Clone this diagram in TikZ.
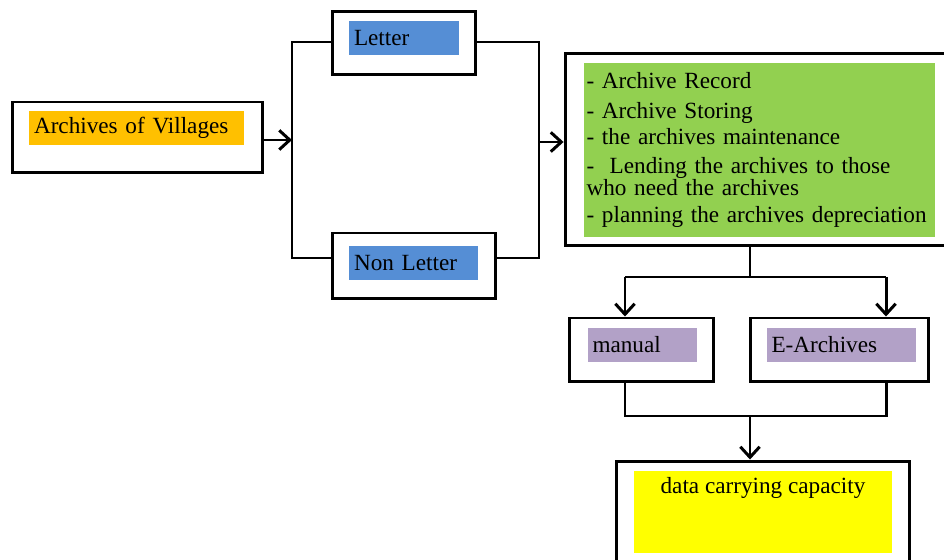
\documentclass[tikz,border=0pt]{standalone}
\usepackage{fontspec}
\setmainfont{Liberation Serif}
\usepackage{xcolor}
\usetikzlibrary{arrows.meta}

\definecolor{villorange}{HTML}{FFC000}
\definecolor{letterblue}{HTML}{558ED5}
\definecolor{taskgreen}{HTML}{92D050}
\definecolor{medpurple}{HTML}{B2A1C7}
\definecolor{capyellow}{HTML}{FFFF00}

\begin{document}
\begin{tikzpicture}[x=0.02cm,y=-0.02cm,
    outer/.style={draw, line width=1.7pt, rectangle, inner sep=0pt},
    inner/.style={rectangle, inner sep=0pt, align=left, font=\fontsize{13.2}{12.5}\selectfont},
    arr/.style={line width=1.7pt, -{Straight Barb[length=6pt,width=11pt]}},
    ln/.style={line width=1.7pt}]
  \useasboundingbox (0,0) rectangle (944,560);

  % boxes
  \node[outer, minimum width=5.02cm, minimum height=1.42cm] (villages) at (137.5,137.5) {};
  \node[inner, fill=villorange, minimum width=4.3cm, minimum height=0.68cm, text width=4.1cm] (villagesT) at (136.5,128) {Archives of Villages};

  \node[outer, minimum width=2.88cm, minimum height=1.26cm] (letter) at (404,43) {};
  \node[inner, fill=letterblue, minimum width=2.2cm, minimum height=0.68cm, text width=2.0cm] (letterT) at (404,38) {Letter};

  \node[outer, minimum width=3.28cm, minimum height=1.32cm] (nonletter) at (414,266) {};
  \node[inner, fill=letterblue, minimum width=2.58cm, minimum height=0.68cm, text width=2.38cm] (nonletterT) at (413.5,263) {Non Letter};

  \node[outer, minimum width=7.9cm, minimum height=3.86cm] (tasks) at (762.5,149.5) {};
  \node[inner, fill=taskgreen, minimum width=7.02cm, minimum height=3.48cm, text width=6.92cm] (tasksT) at (759.5,150)
    {- Archive Record\\[4.5pt]
     - Archive Storing\\[2.8pt]
     - the archives maintenance\\[4pt]
     -~ Lending the archives to those\\
     who need the archives\\[2.8pt]
     \mbox{- planning the archives depreciation}};

  \node[outer, minimum width=2.9cm, minimum height=1.28cm] (manual) at (641.5,350) {};
  \node[inner, fill=medpurple, minimum width=2.18cm, minimum height=0.68cm, text width=2.0cm] (manualT) at (642.5,345) {manual};

  \node[outer, minimum width=3.58cm, minimum height=1.28cm] (earch) at (839.5,350) {};
  \node[inner, fill=medpurple, minimum width=2.98cm, minimum height=0.68cm, text width=2.8cm] (earchT) at (841.5,345) {E-Archives};

  \node[outer, minimum width=5.88cm, minimum height=2.78cm] (data) at (763,530.5) {};
  \node[inner, fill=capyellow, minimum width=5.16cm, minimum height=1.64cm] (dataT) at (763,512) {};
  \node[inner, anchor=north] (dataL) at (763,477) {data carrying capacity};

  % junction points
  \coordinate (lb1) at (292,42);
  \coordinate (lb2) at (292,258);
  \coordinate (rb1) at (539,42);
  \coordinate (rb2) at (539,258);
  \coordinate (rm) at (539,142);
  \coordinate (gs) at (750,277);
  \coordinate (m1) at (625,277);
  \coordinate (e1) at (886,277);
  \coordinate (m2) at (625,416);
  \coordinate (e2) at (886,416);
  \coordinate (dm) at (750,416);

  % connectors
  \draw[arr] (villages.east |- 0,140) -- (lb1 |- 0,140);
  \draw[ln] (letter.west |- lb1) -- (lb1) -- (lb2) -- (nonletter.west |- lb2);
  \draw[ln] (letter.east |- rb1) -- (rb1) -- (rb2) -- (nonletter.east |- rb2);
  \draw[arr] (rm) -- (rm -| tasks.west);

  \draw[ln] (gs |- tasks.south) -- (gs);
  \draw[ln] (m1) -- (e1);
  \draw[arr] (m1) -- (m1 |- manual.north);
  \draw[arr] (e1) -- (e1 |- earch.north);
  \draw[ln] (m1 |- manual.south) -- (m2) -- (e2) -- (e1 |- earch.south);
  \draw[arr] (dm) -- (dm |- data.north);
\end{tikzpicture}
\end{document}
